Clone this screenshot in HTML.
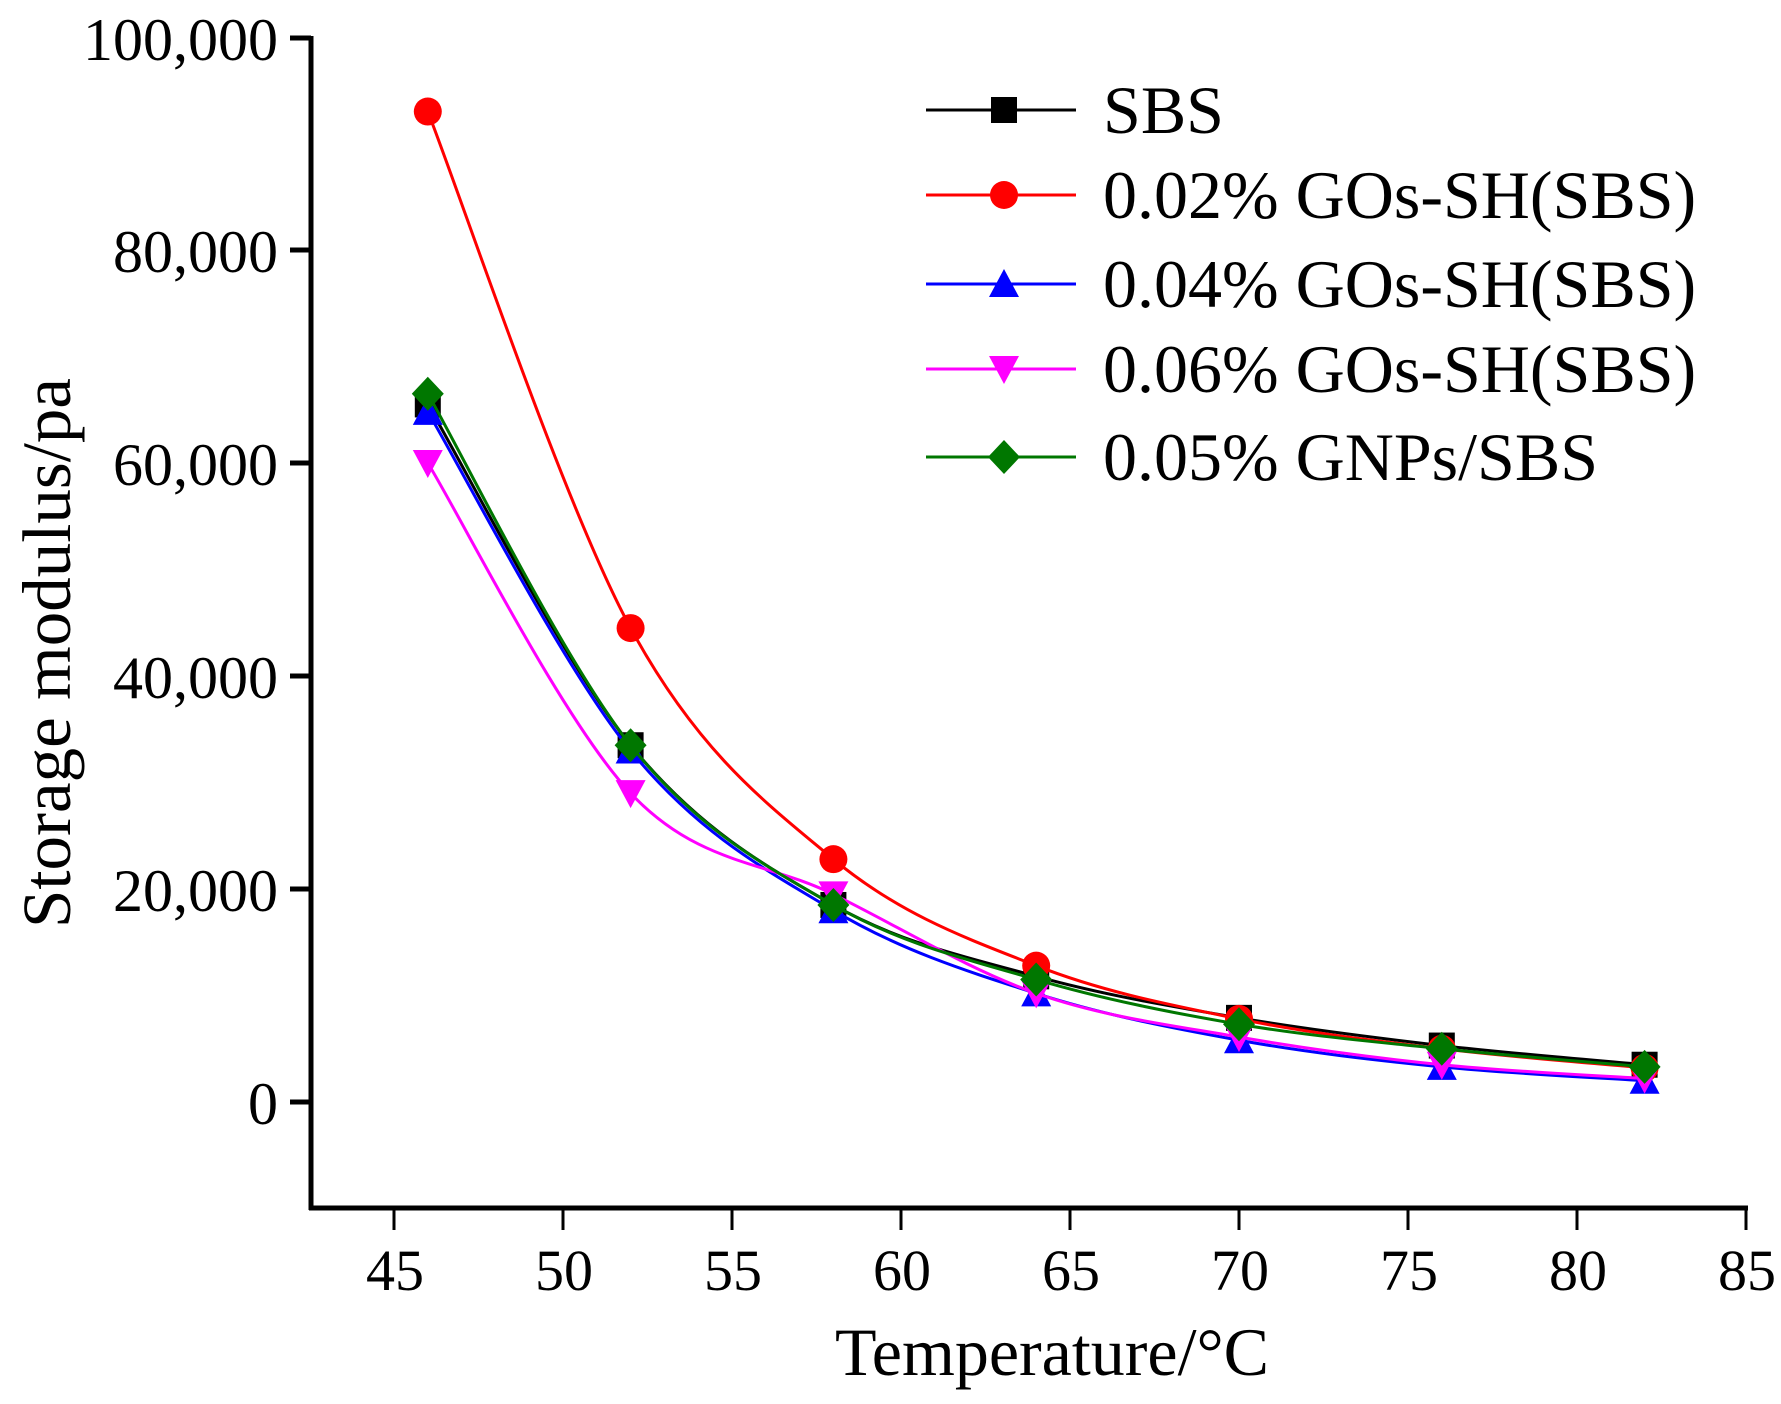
<!DOCTYPE html>
<html><head><meta charset="utf-8"><style>
html,body{margin:0;padding:0;background:#fff;}
svg{display:block;font-family:"Liberation Serif",serif;}
</style></head><body>
<svg id="s" width="1781" height="1404" viewBox="0 0 1781 1404" xmlns="http://www.w3.org/2000/svg">
<g stroke="#000" stroke-width="5" fill="none">
<line x1="311" y1="36" x2="311" y2="1210"/>
<line x1="309" y1="1208" x2="1748" y2="1208"/>
<line x1="290" y1="38" x2="311" y2="38"/>
<line x1="290" y1="250" x2="311" y2="250"/>
<line x1="290" y1="463" x2="311" y2="463"/>
<line x1="290" y1="676" x2="311" y2="676"/>
<line x1="290" y1="889" x2="311" y2="889"/>
<line x1="290" y1="1102" x2="311" y2="1102"/>
</g>
<g stroke="#000" stroke-width="3" id="xt"></g>
<g font-size="60" text-anchor="end">
<text x="278" y="60">100,000</text><text x="278" y="272">80,000</text>
<text x="278" y="485">60,000</text><text x="278" y="698">40,000</text>
<text x="278" y="911">20,000</text><text x="278" y="1124">0</text>
</g>
<g font-size="58" text-anchor="middle" id="xl"></g>
<text x="1052" y="1375" font-size="68" text-anchor="middle">Temperature/°C</text>
<text transform="translate(70,653) rotate(-90)" font-size="69" text-anchor="middle">Storage modulus/pa</text>
<g id="series"></g>
<g id="legend" font-size="68"></g>
</svg>
<script>
function px(x){return 394+(x-45)*33.8;}
function py(v){return 1102-v*0.01065;}
var xt='',xl='';
for(var t=45;t<=85;t+=5){var xx=px(t);xt+='<line x1="'+xx+'" y1="1208" x2="'+xx+'" y2="1230"/>';xl+='<text x="'+(xx+1)+'" y="1290">'+t+'</text>';}
document.getElementById('xt').innerHTML=xt;
document.getElementById('xl').innerHTML=xl;
var X=[46,52,58,64,70,76,82];
var S=[
 {c:"#000",m:"sq",v:[65500,33500,18500,11800,7900,5300,3500],n:"SBS"},
 {c:"#f00",m:"ci",v:[93000,44500,22800,12800,7800,5000,3200],n:"0.02% GOs-SH(SBS)"},
 {c:"#00f",m:"up",v:[64800,33000,18000,10200,5800,3300,2000],n:"0.04% GOs-SH(SBS)"},
 {c:"#f0f",m:"dn",v:[60000,29000,19500,10200,6100,3500,2200],n:"0.06% GOs-SH(SBS)"},
 {c:"#070",m:"di",v:[66500,33500,18500,11500,7300,5000,3300],n:"0.05% GNPs/SBS"}
];
function mk(t,x,y,c){
 var r=13;
 if(t=="sq")return '<rect x="'+(x-r)+'" y="'+(y-r)+'" width="'+2*r+'" height="'+2*r+'" fill="'+c+'"/>';
 if(t=="ci")return '<circle cx="'+x+'" cy="'+y+'" r="'+(r+1)+'" fill="'+c+'"/>';
 if(t=="up")return '<polygon points="'+x+','+(y-r-2)+' '+(x+r+2)+','+(y+r)+' '+(x-r-2)+','+(y+r)+'" fill="'+c+'"/>';
 if(t=="dn")return '<polygon points="'+x+','+(y+r+2)+' '+(x+r+2)+','+(y-r)+' '+(x-r-2)+','+(y-r)+'" fill="'+c+'"/>';
 return '<polygon points="'+x+','+(y-r-4)+' '+(x+r+3)+','+y+' '+x+','+(y+r+4)+' '+(x-r-3)+','+y+'" fill="'+c+'"/>';
}
var h='',lg='';
S.forEach(function(s,k){
 var P=X.map(function(x,i){return [px(x),py(s.v[i])];});
 var d='M'+P[0][0]+','+P[0][1];
 for(var i=0;i<P.length-1;i++){
  var p0=P[Math.max(i-1,0)],p1=P[i],p2=P[i+1],p3=P[Math.min(i+2,P.length-1)];
  d+=' C'+(p1[0]+(p2[0]-p0[0])/6)+','+(p1[1]+(p2[1]-p0[1])/6)+' '+(p2[0]-(p3[0]-p1[0])/6)+','+(p2[1]-(p3[1]-p1[1])/6)+' '+p2[0]+','+p2[1];
 }
 h+='<path d="'+d+'" stroke="'+s.c+'" stroke-width="3" fill="none"/>';
 P.forEach(function(p){h+=mk(s.m,p[0],p[1],s.c);});
 var ly=[110,195,284,369,457][k];
 lg+='<line x1="926" y1="'+ly+'" x2="1076" y2="'+ly+'" stroke="'+s.c+'" stroke-width="3"/>'+mk(s.m,1004,ly,s.c)+
  '<text x="1103" y="'+(ly+23)+'">'+s.n+'</text>';
});
document.getElementById('series').innerHTML=h;
document.getElementById('legend').innerHTML=lg;
</script>
</body></html>
